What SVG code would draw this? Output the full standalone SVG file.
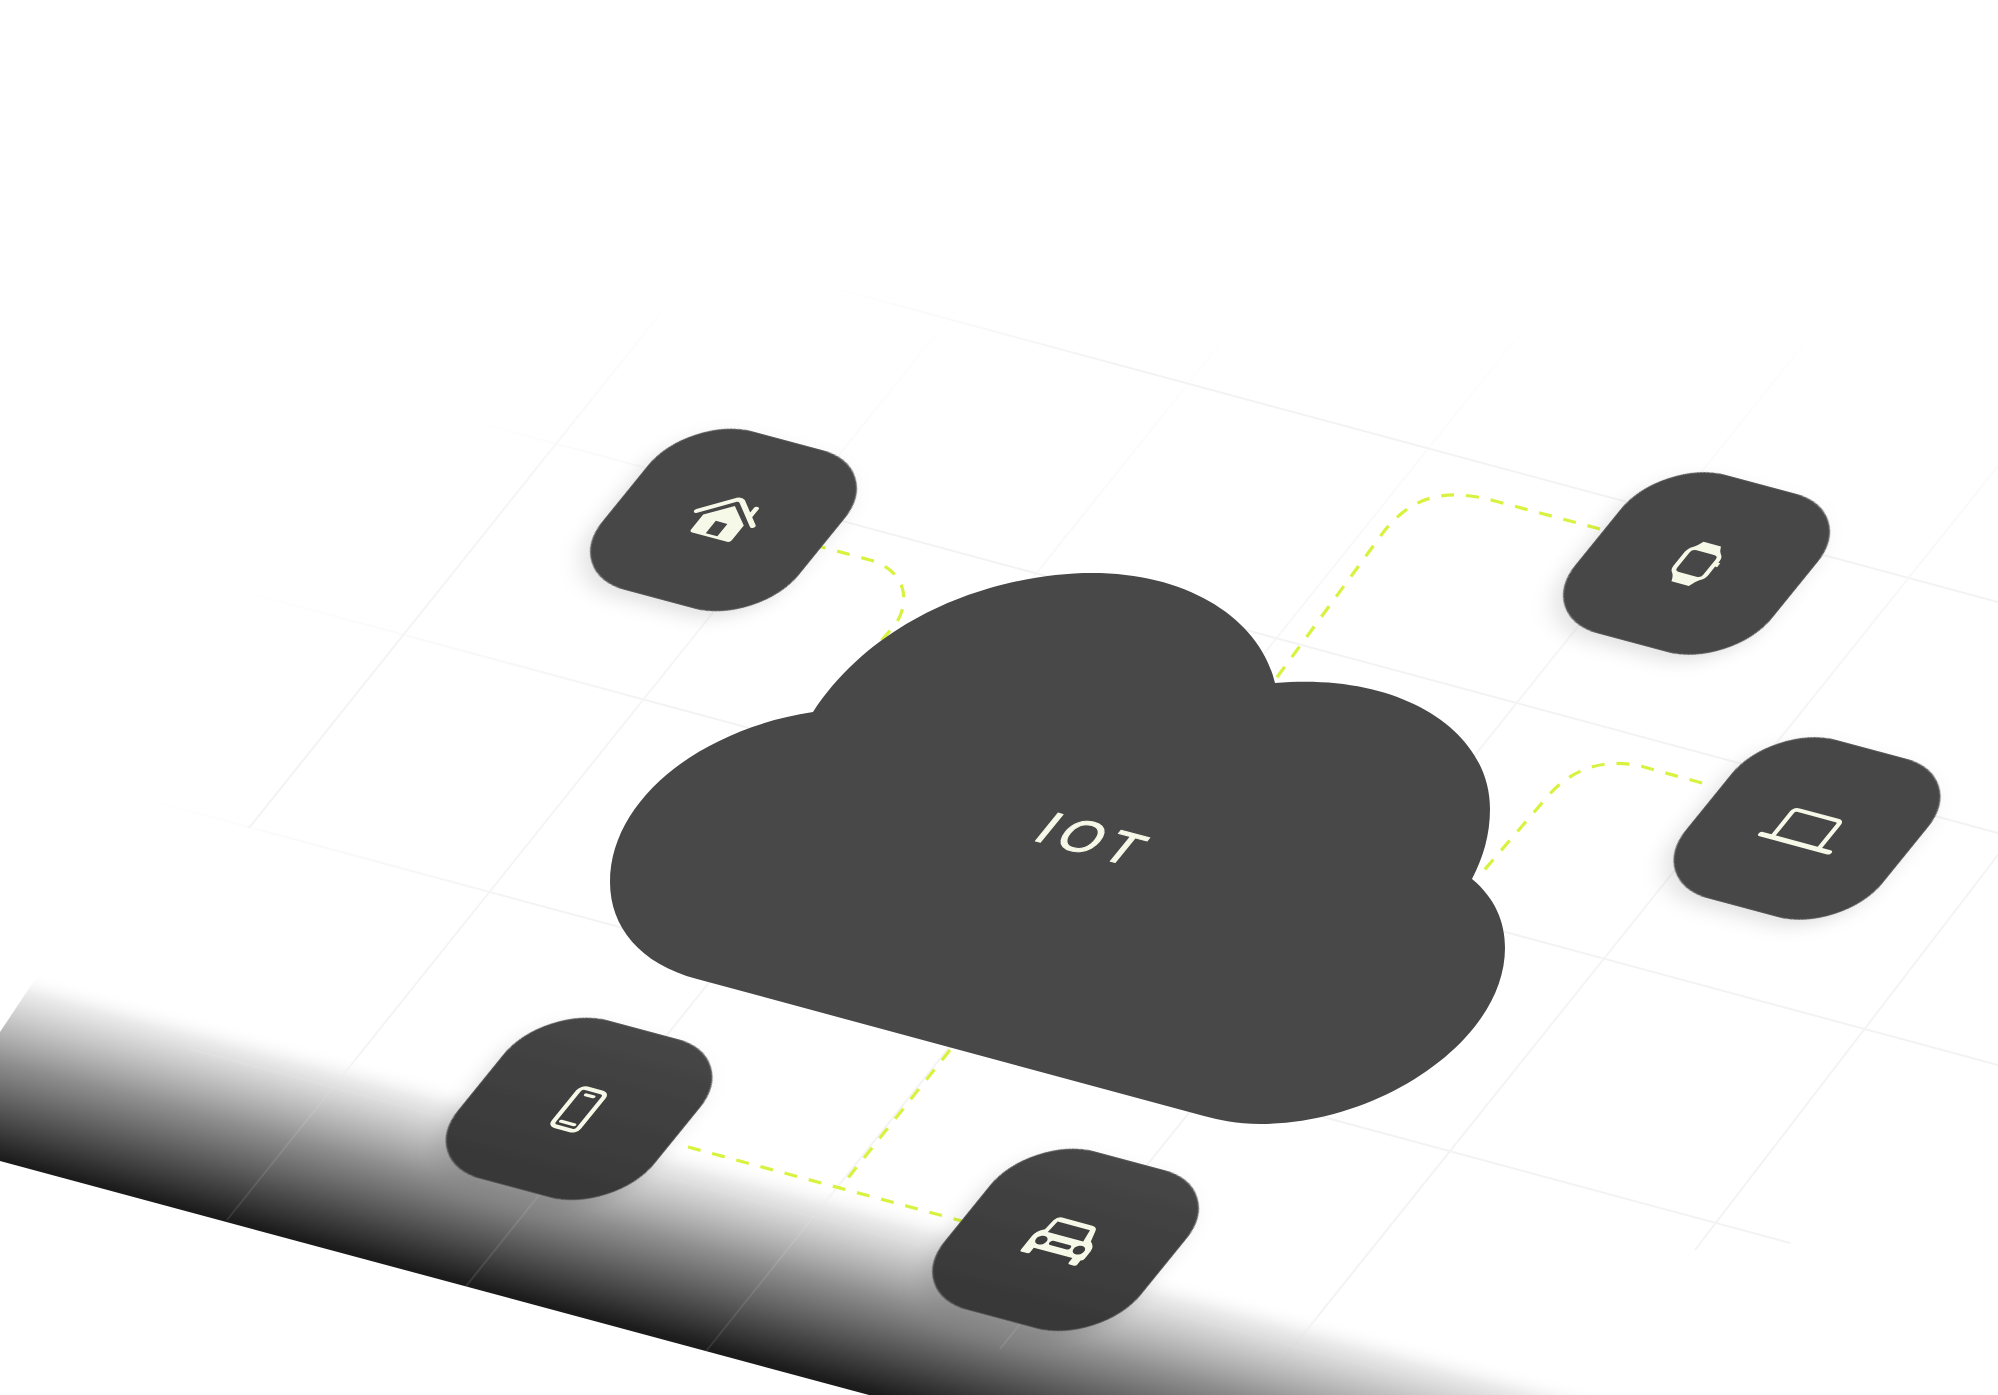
<svg xmlns="http://www.w3.org/2000/svg" width="1998" height="1395" viewBox="0 0 1998 1395">
<style>
.gu{stroke:url(#fadeL);stroke-width:2;fill:none}
.gv{stroke:url(#fadeT);stroke-width:2;fill:none}
.dash{fill:none;stroke:#d9f23f;stroke-width:3.2;stroke-dasharray:13 12}
.pad{fill:#474747;stroke:#5c5c5c;stroke-width:1;filter:url(#sh)}
.dark{fill:url(#padDark)}
.ic{fill:#f6f8e8;fill-rule:evenodd}
.il{fill:none;stroke:#f6f8e8;stroke-linecap:round;stroke-linejoin:round}
</style>
<defs>
<linearGradient id="band" gradientUnits="userSpaceOnUse" x1="500" y1="1096" x2="451" y2="1279">
<stop offset="0" stop-color="#fff" stop-opacity="0"/><stop offset="0.12" stop-color="#e8e8e8" stop-opacity="0.85"/><stop offset="0.5" stop-color="#8c8c8c" stop-opacity="0.97"/><stop offset="1" stop-color="#1c1c1c"/>
</linearGradient>
<linearGradient id="fadeL" x1="0" x2="1" y1="0" y2="0">
<stop offset="0" stop-color="#f3f3f3" stop-opacity="0"/><stop offset="0.25" stop-color="#f3f3f3"/><stop offset="1" stop-color="#f3f3f3"/>
</linearGradient>
<linearGradient id="fadeT" x1="0" x2="0" y1="0" y2="1">
<stop offset="0" stop-color="#f5f5f5" stop-opacity="0"/><stop offset="0.4" stop-color="#f5f5f5"/><stop offset="1" stop-color="#f3f3f3"/>
</linearGradient>
<linearGradient id="padDark" x1="0" x2="0" y1="0" y2="1">
<stop offset="0" stop-color="#464646"/><stop offset="1" stop-color="#373737"/>
</linearGradient>
<clipPath id="plane"><polygon points="0,0 1998,0 1998,1395 869,1395 0,1161"/></clipPath>
<clipPath id="bandClip"><polygon points="38,975 1660,1395 869,1395 0,1161 0,1032"/></clipPath>
<filter id="sh" x="-20%" y="-20%" width="140%" height="140%">
<feDropShadow dx="-3" dy="10" stdDeviation="10" flood-color="#000" flood-opacity="0.11"/>
</filter>
<rect id="padShape" x="-101.5" y="-101.5" width="203" height="203" rx="66" ry="66"/>
</defs>
<rect width="1998" height="1395" fill="#fff"/>
<g id="grid" clip-path="url(#plane)">
<line class="gu" x1="815" y1="283" x2="1998" y2="602"/>
<line class="gu" x1="446" y1="414" x2="1998" y2="833"/>
<line class="gu" x1="223" y1="586" x2="1998" y2="1065"/>
<line class="gu" x1="134" y1="796" x2="1790" y2="1243"/>
<line class="gu" x1="190" y1="1049" x2="1400" y2="1375"/>
<line class="gv" x1="687" y1="280" x2="249" y2="828"/>
<line class="gv" x1="979" y1="280" x2="227" y2="1220"/>
<line class="gv" x1="1271" y1="280" x2="403" y2="1365"/>
<line class="gv" x1="1563" y1="280" x2="695" y2="1365"/>
<line class="gv" x1="1855" y1="280" x2="1000" y2="1349"/>
<line class="gv" x1="2147" y1="280" x2="1274" y2="1371"/>
<line class="gv" x1="2439" y1="280" x2="1695" y2="1250"/>
</g>
<polygon id="band-shape" points="38,975 1660,1395 869,1395 0,1161 0,1032" fill="url(#band)"/>
<g id="grid-over-band" clip-path="url(#bandClip)" stroke="#fff" stroke-opacity="0.1" stroke-width="2">
<line x1="190" y1="1049" x2="1400" y2="1375"/>
<line x1="979" y1="280" x2="227" y2="1220"/>
<line x1="1271" y1="280" x2="403" y2="1365"/>
<line x1="1563" y1="280" x2="695" y2="1365"/>
<line x1="1855" y1="280" x2="1000" y2="1349"/>
</g>
<g id="connectors">
<path class="dash" d="M813 544.6 L870 560 C905 570 912 600 895 625 L860 665"/>
<path class="dash" d="M1600 529 L1495 501 C1440 486 1410 500 1385 530 L1275 680"/>
<path class="dash" d="M1702 783 L1644 767 C1610 758 1575 765 1548 796 L1480 875"/>
<path class="dash" d="M688 1147 L962 1221"/>
<path class="dash" d="M950 1050 L840 1188"/>
</g>
<g id="cloud">
<path fill="#484848" d="M813 712 C880 610 1005 573 1092 573 C1190 573 1260 620 1275 683 C1400 672 1490 730 1490 809 C1490 835 1483 858 1472 879 C1495 898 1505 922 1505 948 C1505 1040 1380 1124 1260 1124 C1236 1124 1220 1120 1204 1116 L697 979 C640 964 610 927 610 882 C610 800 700 729 813 712 Z"/>
<text transform="matrix(0.966,0.259,-0.63,0.776,1095,839)" x="0" y="19" text-anchor="middle" font-family="'Liberation Sans',Arial,sans-serif" font-size="52" letter-spacing="7" fill="#f6f8e8" stroke="#f6f8e8" stroke-width="1.2">IOT</text>
</g>
<g id="node-home" transform="matrix(0.966,0.259,-0.63,0.776,723.5,520)">
<use href="#padShape" class="pad"/>
<path class="il" stroke-width="5" d="M-29 -2 L-3 -25 Q0 -27 3 -25 L29 -2 M20 -21 L20 -11"/>
<path class="ic" d="M0 -18 L21 0 L21 19 Q21 22 18 22 L-18 22 Q-21 22 -21 19 L-21 0 Z M-6 3 L-6 19 L6 19 L6 3 Z"/>
</g>
<g id="node-watch" transform="matrix(0.966,0.259,-0.63,0.776,1696.5,563.5)">
<use href="#padShape" class="pad"/>
<path class="ic" d="M-9 -25 L9 -25 Q11 -20 14 -17 Q18 -14 18 -9 L18 -7 L20 -7 L20 -2 L18 -2 L18 9 Q18 14 14 17 Q11 20 9 26 L-9 26 Q-11 20 -14 17 Q-18 14 -18 9 L-18 -9 Q-18 -14 -14 -17 Q-11 -20 -9 -25 Z M-9 -14 Q-13.5 -14 -13.5 -10 L-13.5 10 Q-13.5 14 -9 14 L9 14 Q13.5 14 13.5 10 L13.5 -10 Q13.5 -14 9 -14 Z"/>
</g>
<g id="node-laptop" transform="matrix(0.966,0.259,-0.63,0.776,1807,828.5)">
<use href="#padShape" class="pad"/>
<path class="il" stroke-width="4.5" d="M-24 18 L-24 -13 Q-24 -17 -20 -17 L20 -17 Q24 -17 24 -13 L24 18"/>
<path class="il" stroke-width="5.5" d="M-35 19 L35 19"/>
</g>
<g id="node-phone" transform="matrix(0.966,0.259,-0.63,0.776,579,1109)">
<use href="#padShape" class="pad dark"/>
<rect class="il" stroke-width="4.5" x="-13" y="-24" width="26" height="49" rx="5"/>
<path class="il" stroke-width="3.5" d="M-4 -17 L4 -17 M-7 18 L7 18"/>
</g>
<g id="node-car" transform="matrix(0.966,0.259,-0.63,0.776,1065.5,1240)">
<use href="#padShape" class="pad dark"/>
<path class="ic" transform="translate(0,1) scale(1.08)" d="M-17 -22 L12 -22 Q17 -22 18 -17 L21 -6 Q27 -2 27 4 L27 12 Q27 15 25 15 L25 20 Q25 22 23 22 L19 22 Q17 22 17 20 L17 15 L-20 15 L-20 20 Q-20 22 -22 22 L-27 22 Q-29 22 -29 20 L-29 4 Q-29 -2 -23 -6 L-22 -17 Q-21 -22 -17 -22 Z M-18 -17 L-19 -4 L15 -4 L13 -17 Z M-19 0.5 A5 5 0 1 0 -18.9 0.5 Z M17 0.5 A5 5 0 1 0 17.1 0.5 Z M-9 3 Q-11 3 -11 5.5 Q-11 8 -9 8 L7 8 Q9 8 9 5.5 Q9 3 7 3 Z"/>
</g>
</svg>
